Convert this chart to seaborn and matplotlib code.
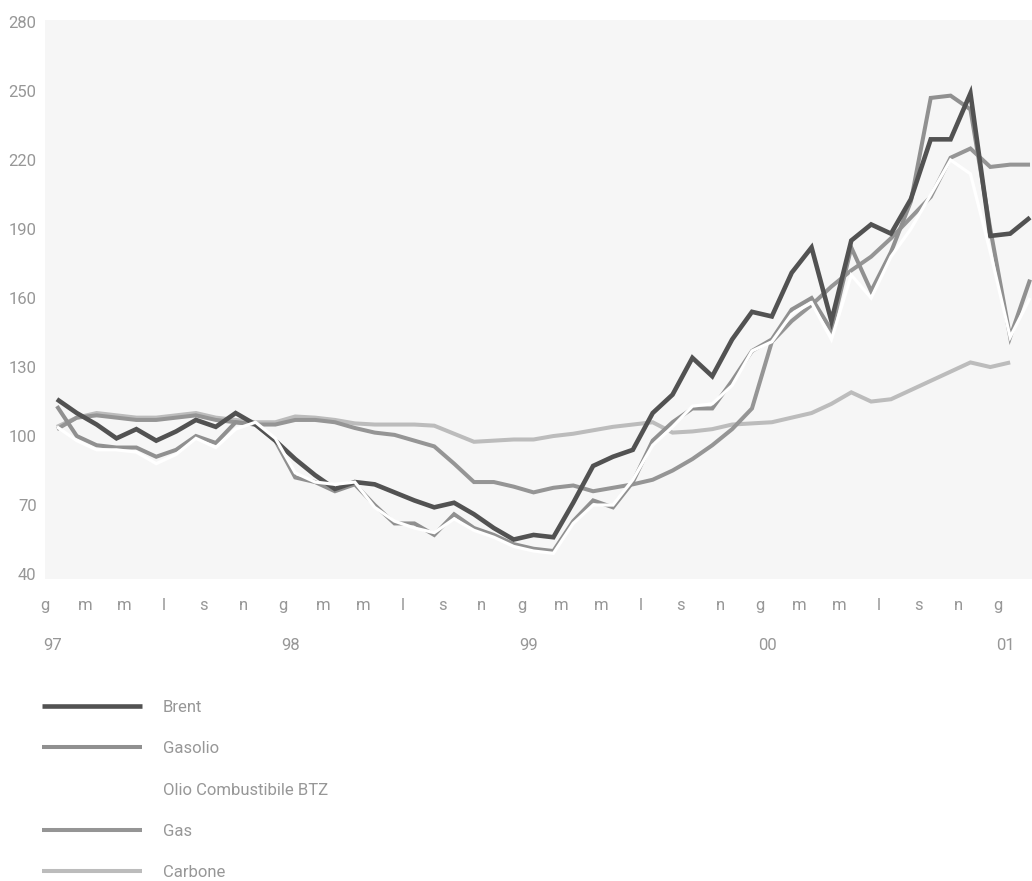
import numpy as np
import pandas as pd
import matplotlib
matplotlib.use("Agg")
import matplotlib.pyplot as plt
import seaborn as sns

# ---------------- data (monthly index, Jan 1997 = 0 ... Feb 2001 = 49) ----------------
months = list(range(50))

brent = [116, 110, 105, 99, 103, 98, 102, 107, 104, 110, 105, 98,
         90, 83, 77, 80, 79, 75.5, 72, 69, 71, 66, 60, 55,
         57, 56, 71, 87, 91, 94, 110, 118, 134, 126, 142, 154,
         152, 171, 182, 150, 185, 192, 188, 203, 229, 229, 249, 187, 188, 195]

gasolio = [113, 100, 96, 95, 95, 91, 94, 100, 97, 106, 105, 98,
           82, 80, 76, 79, 70, 62, 62, 57, 66, 60, 57, 53,
           51, 50, 63, 72, 69, 80, 98, 106, 112, 112, 124, 137,
           142, 155, 160, 146, 182, 163, 180, 202, 247, 248, 242, 190, 143, 168]

olio_btz = [104, 98, 94, 94, 93, 88, 92, 99, 95, 103, 106, 99,
            84, 80, 79, 80, 69, 63, 60, 58, 64, 59, 56, 52,
            50, 49, 62, 70, 70, 81, 96, 104, 113, 114, 122, 137,
            141, 153, 158, 142, 170, 160, 178, 190, 205, 220, 214, 180, 143, 160]

gas = [103, 108, 109, 108, 107, 107, 108, 109, 107, 106, 105, 105,
       107, 107, 106, 103.5, 101.5, 100.5, 98, 95.5, 88, 80, 80, 78,
       75.5, 77.5, 78.5, 76, 77.5, 79, 81, 85, 90, 96, 103, 112,
       141, 150, 157, 165, 172, 178, 186, 195, 204, 221, 225, 217, 218, 218]

carbone = [104, 108, 110, 109, 108, 108, 109, 110, 108, 107, 106, 106,
           108.5, 108, 107, 105.5, 105, 105, 105, 104.5, 101, 97.5, 98, 98.5,
           98.5, 100, 101, 102.5, 104, 105, 106, 101.5, 102, 103, 105, 105.5,
           106, 108, 110, 114, 119, 115, 116, 120, 124, 128, 132, 130, 132, np.nan]

series_names = ["Brent", "Gasolio", "Olio Combustibile BTZ", "Gas", "Carbone"]
month_letters = ["g", "m", "m", "l", "s", "n"] * 4 + ["g"]
year_labels = ["97", "98", "99", "00", "01"]
y_ticks = [40, 70, 100, 130, 160, 190, 220, 250, 280]

# ---------------- styling ----------------
colors = {"Brent": "#525252", "Gasolio": "#909090", "Olio Combustibile BTZ": "#ffffff",
          "Gas": "#959595", "Carbone": "#bcbcbc"}
widths = {"Brent": 3.3, "Gasolio": 2.9, "Olio Combustibile BTZ": 2.3, "Gas": 2.9, "Carbone": 2.9}
zorders = {"Brent": 4, "Gasolio": 3, "Olio Combustibile BTZ": 5, "Gas": 2, "Carbone": 1}

sns.set_theme(style="white")
plt.rcParams["font.family"] = ["Roboto", "DejaVu Sans"]
text_color = "#979797"

fig = plt.figure(figsize=(10.32, 8.81), dpi=100)
fig.patch.set_facecolor("white")
ax = fig.add_axes([0.0436, 0.3432, 0.9564, 0.6344])
ax.set_facecolor("#f6f6f6")

values = {"Brent": brent, "Gasolio": gasolio, "Olio Combustibile BTZ": olio_btz,
          "Gas": gas, "Carbone": carbone}
for name in series_names:
    df = pd.DataFrame({"month": months, "value": values[name]})
    sns.lineplot(data=df, x="month", y="value", ax=ax, color=colors[name],
                 linewidth=widths[name], zorder=zorders[name], label=name,
                 solid_joinstyle="miter", solid_capstyle="butt")

ax.set_xlim(-0.6, 49.1)
ax.set_ylim(38, 281)
ax.set_yticks(y_ticks)
ax.set_yticklabels([str(v) for v in y_ticks])
tick_pos = [i - 0.6 for i in range(0, 50, 2)]
ax.set_xticks(tick_pos)
ax.set_xticklabels(month_letters)
ax.tick_params(axis="both", length=0, colors=text_color, labelsize=12)
ax.tick_params(axis="x", pad=14)
ax.tick_params(axis="y", pad=6)
ax.set_xlabel("")
ax.set_ylabel("")
for s in ax.spines.values():
    s.set_visible(False)

for k, yl in enumerate(year_labels):
    ax.text(tick_pos[k * 6] - 0.1, -0.119, yl, transform=ax.get_xaxis_transform(),
            ha="left", va="center", fontsize=12, color=text_color)

leg = ax.legend(loc="upper left", bbox_to_anchor=(42 / 1032, 1 - 700 / 881),
                bbox_transform=fig.transFigure, frameon=False, fontsize=12,
                handlelength=6.0, handletextpad=1.25, labelspacing=1.58,
                borderpad=0, borderaxespad=0)
for t in leg.get_texts():
    t.set_color(text_color)

fig.savefig("out.png", dpi=100, facecolor="white")
